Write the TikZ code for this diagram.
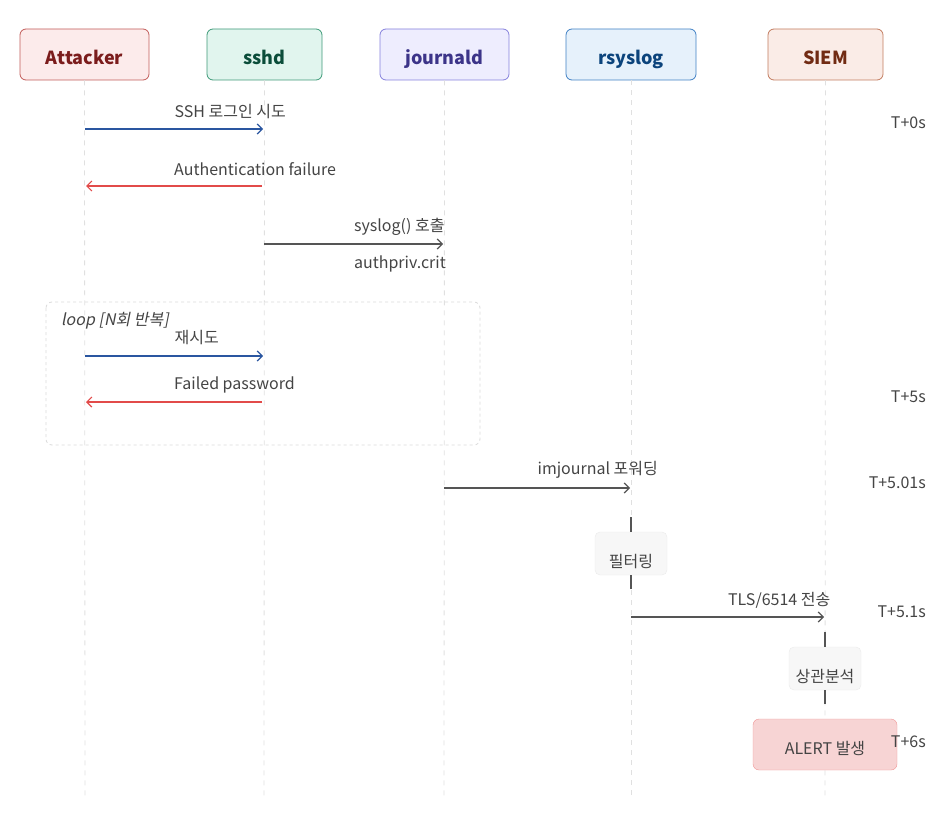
\documentclass[tikz,border=0pt]{standalone}
\usepackage{fontspec}
\setmainfont{Noto Sans CJK KR}
\newfontfamily\loopfont{Noto Sans CJK KR}[FakeSlant=0.2]
\usetikzlibrary{arrows.meta,positioning}
\definecolor{txt}{HTML}{444444}
\definecolor{msgblue}{HTML}{2A56A0}
\definecolor{msgred}{HTML}{E24B4A}
\definecolor{msggray}{HTML}{555555}
\definecolor{attfill}{HTML}{FCEBEB}\definecolor{attdraw}{HTML}{C25B58}\definecolor{atttext}{HTML}{7B1C1C}
\definecolor{sshfill}{HTML}{E1F5EE}\definecolor{sshdraw}{HTML}{3D9A78}\definecolor{sshtext}{HTML}{0B4D3A}
\definecolor{jrnfill}{HTML}{EEEDFE}\definecolor{jrndraw}{HTML}{8580DC}\definecolor{jrntext}{HTML}{3C3489}
\definecolor{rslfill}{HTML}{E6F1FB}\definecolor{rsldraw}{HTML}{3F80C4}\definecolor{rsltext}{HTML}{0C447C}
\definecolor{siemfill}{HTML}{FAECE7}\definecolor{siemdraw}{HTML}{C27B5E}\definecolor{siemtext}{HTML}{712B13}
\definecolor{alertfill}{HTML}{F7D4D4}\definecolor{alertdraw}{HTML}{F09595}
\tikzset{
  head/.style={draw, rounded corners=6pt, minimum width=129pt, minimum height=51pt, text height=21pt, text depth=0pt, font=\fontsize{18}{20}\selectfont\bfseries, line width=0.8pt},
  life/.style={draw=black!12, dash pattern=on 5pt off 5pt, line width=0.8pt},
  msg/.style={->, line width=1.2pt},
  lbl/.style={midway, anchor=west, inner xsep=0pt, text=txt},
  tlbl/.style={anchor=east, text=txt, inner xsep=0pt},
  actbox/.style={draw=black!8, fill=black!3, rounded corners=5pt, minimum width=72pt, minimum height=43pt, text=txt, text height=27pt, text depth=0pt},
  actline/.style={draw=msggray, line width=1.2pt}
}
\begin{document}
\begin{tikzpicture}[x=1pt, y=-1pt, font=\fontsize{16}{19}\selectfont, line cap=butt, >={Straight Barb[length=5pt,width=10pt]}]
\useasboundingbox (0,0) rectangle (939,818);
% 참여자
\node[head, fill=attfill, draw=attdraw, text=atttext, minimum width=129pt] (att) at (84.5,54.5) {Attacker};
\node[head, fill=sshfill, draw=sshdraw, text=sshtext, minimum width=115pt] (sshd) at (264.5,54.5) {sshd};
\node[head, fill=jrnfill, draw=jrndraw, text=jrntext] (jrn) at (444.5,54.5) {journald};
\node[head, fill=rslfill, draw=rsldraw, text=rsltext, minimum width=130pt] (rsl) at (631,54.5) {rsyslog};
\node[head, fill=siemfill, draw=siemdraw, text=siemtext, minimum width=115pt] (siem) at (825.5,54.5) {SIEM};
% 생명선
\foreach \n/\x in {att/85, sshd/264, jrn/444, rsl/631, siem/825}{
  \coordinate (\n-end) at (\x,800);
  \draw[life] (\n.south) -- (\n-end);
}
% loop 영역
\draw[draw=black!15, dashed, rounded corners=6pt, line width=0.8pt] (46,302) rectangle (480,445);
\node[anchor=west, inner xsep=0pt, text=txt, font=\fontsize{16}{19}\selectfont\loopfont] (looplbl) at (61,321) {loop [N회 반복]};
% 메시지
\coordinate (m1a) at (85,129); \coordinate (m1b) at (263,129);
\draw[msg, msgblue] (m1a) -- node[lbl, yshift=17pt] {SSH 로그인 시도} (m1b);
\coordinate (m2a) at (262,186); \coordinate (m2b) at (86,186);
\draw[msg, msgred] (m2a) -- (m2b);
\node[anchor=west, inner xsep=0pt, text=txt] (m2l) at (174,169) {Authentication failure};
\coordinate (m3a) at (264,244); \coordinate (m3b) at (443,244);
\draw[msg, msggray] (m3a) -- node[lbl, yshift=17pt] {syslog() 호출} node[lbl, yshift=-20pt] {authpriv.crit} (m3b);
\coordinate (m4a) at (85,356); \coordinate (m4b) at (263,356);
\draw[msg, msgblue] (m4a) -- node[lbl, yshift=18pt] {재시도} (m4b);
\coordinate (m5a) at (262,402); \coordinate (m5b) at (86,402);
\draw[msg, msgred] (m5a) -- (m5b);
\node[anchor=west, inner xsep=0pt, text=txt] (m5l) at (174,385) {Failed password};
\coordinate (m6a) at (444,488); \coordinate (m6b) at (630,488);
\draw[msg, msggray] (m6a) -- node[lbl, yshift=18pt] {imjournal 포워딩} (m6b);
% 필터링
\coordinate (f1) at (631,517); \coordinate (f2) at (631,589);
\node[actbox] (filt) at (631,553.5) {필터링};
\draw[actline] (f1) -- (filt.north);
\draw[actline] (filt.south) -- (f2);
\coordinate (m7a) at (631,617); \coordinate (m7b) at (824,617);
\draw[msg, msggray] (m7a) -- node[lbl, yshift=17pt] {TLS/6514 전송} (m7b);
% 상관분석
\coordinate (c1) at (825,632); \coordinate (c2) at (825,704);
\node[actbox] (corr) at (825,668.5) {상관분석};
\draw[actline] (c1) -- (corr.north);
\draw[actline] (corr.south) -- (c2);
\node[draw=alertdraw, fill=alertfill, rounded corners=6pt, minimum width=144pt, minimum height=51pt, text=txt, text height=20pt, text depth=0pt] (alert) at (825,744.5) {ALERT 발생};
% 시간
\node[tlbl] (t1) at (926,123) {T+0s};
\node[tlbl] (t2) at (926,397) {T+5s};
\node[tlbl] (t3) at (926,483) {T+5.01s};
\node[tlbl] (t4) at (926,612) {T+5.1s};
\node[tlbl] (t5) at (926,742) {T+6s};
\end{tikzpicture}
\end{document}
